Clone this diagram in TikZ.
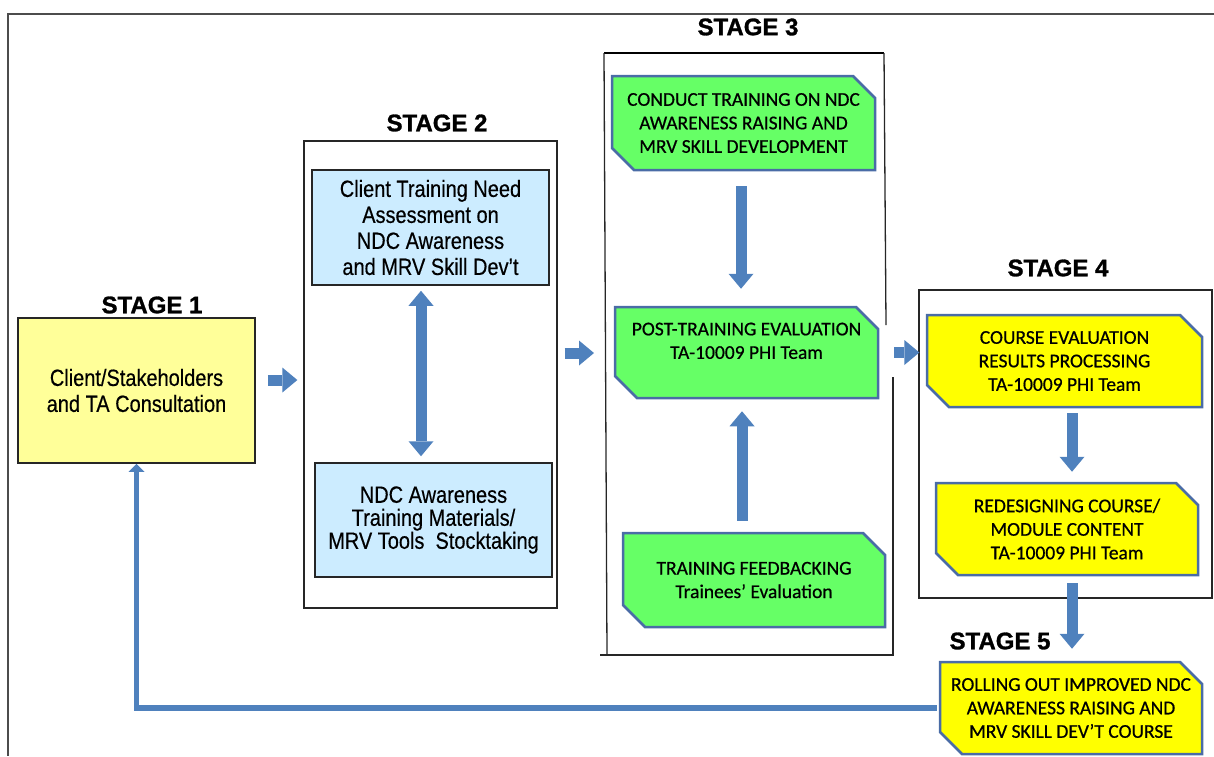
\documentclass[tikz,border=0pt]{standalone}
\usepackage{fontspec}
\setmainfont{Liberation Sans}
\newfontfamily\narrowfont[FakeStretch=0.85,FakeBold=0.4]{Liberation Sans}
\newfontfamily\calfont[FakeBold=0.6]{Carlito}
\newfontfamily\stagefont[BoldFeatures={FakeBold=1.2}]{Liberation Sans}
\usetikzlibrary{arrows.meta,shapes.misc}
\definecolor{paleyellow}{HTML}{FFFF99}
\definecolor{paleblue}{HTML}{CCECFF}
\definecolor{brightgreen}{HTML}{66FF66}
\definecolor{brightyellow}{HTML}{FFFF00}
\definecolor{boxblue}{HTML}{4A6CA6}
\definecolor{arrowblue}{HTML}{4F81BD}

\begin{document}
\begin{tikzpicture}[x=1pt, y=-1pt,
  stagelabel/.style={font=\stagefont\fontsize{24}{28}\selectfont\bfseries, inner sep=0pt},
  plainbox/.style={draw=black!85, line width=1.5pt, align=center, inner sep=0pt,
    font=\narrowfont\fontsize{23.5}{26}\selectfont},
  cutbox/.style={chamfered rectangle, chamfered rectangle corners={north east,south west},
    chamfered rectangle xsep=11pt, chamfered rectangle ysep=11pt, inner sep=0pt,
    draw=boxblue, line width=2.5pt, align=center, font=\calfont\fontsize{19.5}{23.5}\selectfont},
  framebox/.style={draw=black!85, line width=1.3pt, inner sep=0pt},
  fatarrow/.style={arrowblue, line width=11pt, -{Triangle[length=15pt,width=25pt,line width=0pt]}},
  twoarrow/.style={arrowblue, line width=11pt,
    {Triangle[length=15pt,width=25pt,line width=0pt]}-{Triangle[length=15pt,width=25pt,line width=0pt]}}
]
  \useasboundingbox (0,0) rectangle (1214,756);
  \draw[black!70, line width=2pt] (1214,14) -- (8,14) -- (8,756);

  % stage frames
  \node[framebox, minimum width=253, minimum height=467] (frame2) at (430.5,374.5) {};
  \node[framebox, minimum width=293, minimum height=308] (frame4) at (1065.5,444) {};
  \coordinate (f3a) at (604,53);
  \coordinate (f3b) at (884,53);
  \coordinate (f3c) at (886,325);
  \coordinate (f3d) at (893,377);
  \coordinate (f3e) at (893,655);
  \coordinate (f3f) at (607,655);
  \draw[black, line width=2.4pt] (f3a) -- (f3b);
  \draw[black!85, line width=1.3pt] (f3a) -- (f3f);
  \draw[black!85, line width=1.3pt] (f3b) -- (f3c);
  \draw[black!85, line width=1.3pt] (f3d) -- (f3e) -- (600,655);

  \node[stagelabel] (lab1) at (152,305) {STAGE 1};
  \node[stagelabel] (lab2) at (437,123) {STAGE 2};
  \node[stagelabel] (lab3) at (748,27) {STAGE 3};
  \node[stagelabel] (lab4) at (1058,268) {STAGE 4};
  \node[stagelabel] (lab5) at (1000,641) {STAGE 5};

  \node[plainbox, fill=paleyellow, minimum width=237, minimum height=145] (stageone) at (136.5,390.5)
    {Client/Stakeholders\\and TA Consultation};
  \node[plainbox, fill=paleblue, minimum width=237, minimum height=115] (needs) at (430.5,227.5)
    {Client Training Need\\Assessment on\\NDC Awareness\\and MRV Skill Dev’t};
  \node[plainbox, fill=paleblue, minimum width=237, minimum height=114,
    font=\narrowfont\fontsize{23.5}{23}\selectfont] (stocktake) at (433.5,520)
    {NDC Awareness\\Training Materials/\\MRV Tools\ \ Stocktaking};

  \node[cutbox, fill=brightgreen, minimum width=263, minimum height=94] (conduct) at (743.5,123)
    {CONDUCT TRAINING ON NDC\\AWARENESS RAISING AND\\MRV SKILL DEVELOPMENT};
  \node[cutbox, fill=brightgreen, minimum width=263, minimum height=91] (posteval) at (746.5,352.5)
    {POST-TRAINING EVALUATION\\TA-10009 PHI Team\\\mbox{}};
  \node[cutbox, fill=brightgreen, minimum width=262, minimum height=94] (feedback) at (754,580)
    {TRAINING FEEDBACKING\\Trainees’ Evaluation};

  \node[cutbox, fill=brightyellow, minimum width=275, minimum height=92] (courseeval) at (1064.5,361)
    {COURSE EVALUATION\\RESULTS PROCESSING\\TA-10009 PHI Team};
  \node[cutbox, fill=brightyellow, minimum width=262, minimum height=92] (redesign) at (1067,529)
    {REDESIGNING COURSE/\\MODULE CONTENT\\TA-10009 PHI Team};
  \node[cutbox, fill=brightyellow, minimum width=262, minimum height=92] (rollout) at (1071,708)
    {ROLLING OUT IMPROVED NDC\\AWARENESS RAISING AND\\MRV SKILL DEV’T COURSE};

  % block arrows
  \draw[fatarrow, shorten <=12pt, shorten >=6pt] ([yshift=10.5pt]stageone.east) -- ([yshift=10.5pt]stageone.east -| frame2.west);
  \draw[twoarrow, shorten <=5pt, shorten >=6pt] ([xshift=-9.5pt]needs.south) -- ([xshift=-9.5pt]needs.south |- stocktake.north);
  \draw[fatarrow, shorten <=7pt, shorten >=10pt] ([yshift=21.5pt]frame2.east) -- ([yshift=21.5pt]frame2.east -| f3a);
  \draw[fatarrow, shorten <=15pt, shorten >=17pt] ([xshift=-2.5pt]conduct.south) -- ([xshift=-2.5pt]conduct.south |- posteval.north);
  \draw[fatarrow, shorten <=11pt, shorten >=12pt] ([xshift=-12pt]feedback.north) -- ([xshift=-12pt]feedback.north |- posteval.south);
  \draw[fatarrow, shorten <=15pt, shorten >=-1pt] (posteval.east) -- (posteval.east -| frame4.west);
  \draw[fatarrow, shorten <=5pt, shorten >=10pt] ([xshift=7.5pt]courseeval.south) -- ([xshift=7.5pt]courseeval.south |- redesign.north);
  \draw[fatarrow, shorten <=7pt, shorten >=12pt] ([xshift=5pt]redesign.south) -- ([xshift=5pt]redesign.south |- rollout.north);

  \draw[arrowblue, line width=5.5pt, -{Triangle[length=8pt,width=16pt,line width=0pt]}]
    ([xshift=-2pt]rollout.west) -| (stageone.south);
\end{tikzpicture}
\end{document}
